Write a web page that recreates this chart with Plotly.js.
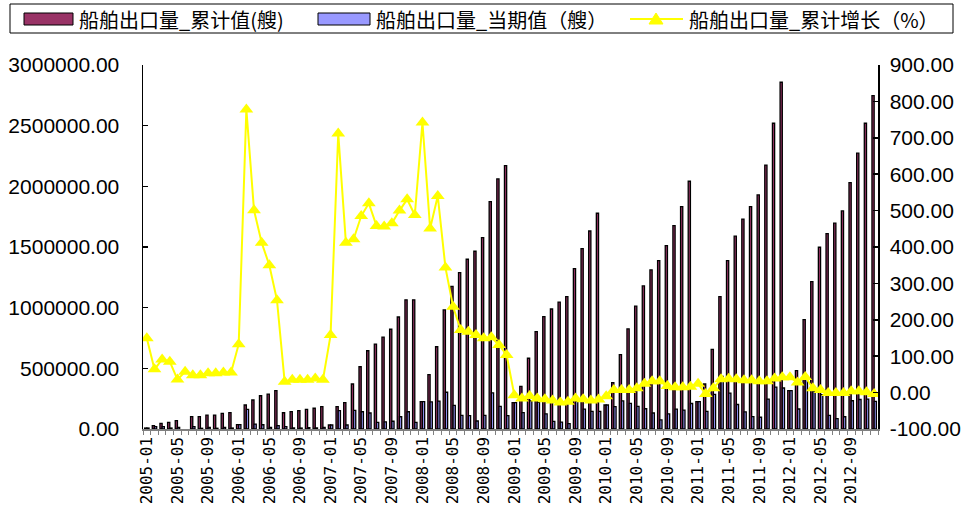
<!DOCTYPE html>
<html>
<head>
<meta charset="utf-8">
<script src="https://cdn.plot.ly/plotly-3.0.1.min.js"></script>
<style>html,body{margin:0;padding:0;background:#fff;}#chart{width:966px;height:508px;}</style>
</head>
<body>
<div id="chart"></div>
<script>
// ---- data ----
const categories = [
"2005-01","2005-02","2005-03","2005-04","2005-05","2005-06","2005-07","2005-08","2005-09","2005-10","2005-11","2005-12",
"2006-01","2006-02","2006-03","2006-04","2006-05","2006-06","2006-07","2006-08","2006-09","2006-10","2006-11","2006-12",
"2007-01","2007-02","2007-03","2007-04","2007-05","2007-06","2007-07","2007-08","2007-09","2007-10","2007-11","2007-12",
"2008-01","2008-02","2008-03","2008-04","2008-05","2008-06","2008-07","2008-08","2008-09","2008-10","2008-11","2008-12",
"2009-01","2009-02","2009-03","2009-04","2009-05","2009-06","2009-07","2009-08","2009-09","2009-10","2009-11","2009-12",
"2010-01","2010-02","2010-03","2010-04","2010-05","2010-06","2010-07","2010-08","2010-09","2010-10","2010-11","2010-12",
"2011-01","2011-02","2011-03","2011-04","2011-05","2011-06","2011-07","2011-08","2011-09","2011-10","2011-11","2011-12",
"2012-01","2012-02","2012-03","2012-04","2012-05","2012-06","2012-07","2012-08","2012-09","2012-10","2012-11","2012-12"];

const tickLabels = ["2005-01","2005-05","2005-09","2006-01","2006-05","2006-09","2007-01","2007-05","2007-09",
"2008-01","2008-05","2008-09","2009-01","2009-05","2009-09","2010-01","2010-05","2010-09",
"2011-01","2011-05","2011-09","2012-01","2012-05","2012-09"];

const cumulativeShips = [
8000,27000,47000,55000,69000,null,102000,102000,115000,115000,129000,135000,
36000,198000,239000,274000,288000,316000,134000,143000,151000,162000,171000,184000,
33000,184000,217000,371000,513000,645000,700000,758000,822000,923000,1065000,1065000,
225000,448000,678000,981000,1176000,1288000,1399000,1465000,1577000,1874000,2061000,2171000,
217000,352000,583000,802000,926000,989000,1046000,1091000,1322000,1486000,1632000,1778000,
198000,382000,613000,825000,1012000,1179000,1311000,1387000,1512000,1676000,1832000,2042000,
225000,371000,657000,1091000,1387000,1589000,1730000,1832000,1929000,2175000,2520000,2858000,
316000,481000,901000,1214000,1498000,1610000,1696000,1797000,2030000,2273000,2520000,2748000];

const currentShips = [
8000,19000,20000,8000,14000,null,20000,6000,13000,6000,14000,8000,
36000,162000,41000,35000,14000,28000,20000,9000,8000,11000,9000,13000,
33000,151000,33000,154000,142000,132000,55000,58000,64000,101000,142000,55000,
225000,223000,230000,303000,195000,112000,111000,66000,112000,297000,187000,110000,
217000,135000,231000,219000,124000,63000,57000,45000,231000,164000,146000,146000,
198000,184000,231000,212000,187000,167000,132000,76000,125000,164000,156000,210000,
225000,146000,286000,434000,296000,202000,141000,102000,97000,246000,345000,338000,
316000,165000,420000,313000,284000,112000,86000,101000,233000,243000,247000,228000];

const growthPct = [
149,64,91,85,36,57,48,48,53,53,55,55,
133,778,501,412,350,254,30,35,35,35,39,35,
158,712,412,421,485,520,458,456,465,500,531,488,
742,451,540,344,236,172,167,158,149,152,131,103,
-7,-16,-9,-16,-18,-22,-27,-25,-16,-18,-22,-19,
-10,7,7,7,12,24,31,31,18,15,15,16,
24,-4,12,37,38,37,34,34,31,31,39,42,
42,28,43,12,7,-1,-1,-1,4,4,1,-4];

const leftTicks = [0,500000,1000000,1500000,2000000,2500000,3000000];
const leftTickText = ["0.00","500000.00","1000000.00","1500000.00","2000000.00","2500000.00","3000000.00"];
const rightTicks = [-100,0,100,200,300,400,500,600,700,800,900];
const rightTickText = ["-100.00","0.00","100.00","200.00","300.00","400.00","500.00","600.00","700.00","800.00","900.00"];

const seriesNames = ["船舶出口量_累计值(艘)","船舶出口量_当期值（艘）","船舶出口量_累计增长（%）"];

// ---- geometry helpers (pixel -> paper) ----
const W = 966, H = 508;
const M = {l:143, r:88, t:65, b:79};
const pw = W - M.l - M.r, ph = H - M.t - M.b;
const px = x => (x - M.l) / pw;
const py = y => (H - M.b - y) / ph;

const traces = [
  {type:'bar', name:seriesNames[0], x:categories, y:cumulativeShips,
   marker:{color:'#993366', line:{color:'#000000', width:1.3}}, showlegend:false},
  {type:'bar', name:seriesNames[1], x:categories, y:currentShips,
   marker:{color:'#9999FF', line:{color:'#000000', width:1.3}}, showlegend:false},
  {type:'scatter', mode:'lines+markers', name:seriesNames[2], x:categories, y:growthPct, yaxis:'y2',
   line:{color:'#FFFF00', width:2}, marker:{symbol:'triangle-up', size:12, color:'#FFFF00'},
   connectgaps:true, showlegend:false}
];

// custom legend
const legY = 19;
const shapes = [
  {type:'rect', xref:'paper', yref:'paper', x0:px(10), x1:px(953), y0:py(33), y1:py(4),
   line:{color:'#000', width:1}, fillcolor:'rgba(0,0,0,0)'},
  {type:'rect', xref:'paper', yref:'paper', x0:px(24), x1:px(73), y0:py(legY+6), y1:py(legY-6),
   line:{color:'#000', width:1}, fillcolor:'#993366'},
  {type:'rect', xref:'paper', yref:'paper', x0:px(318), x1:px(370), y0:py(legY+6), y1:py(legY-6),
   line:{color:'#000', width:1}, fillcolor:'#9999FF'},
  {type:'line', xref:'paper', yref:'paper', x0:px(630), x1:px(683), y0:py(legY), y1:py(legY),
   line:{color:'#FFFF00', width:2}},
  {type:'path', xref:'paper', yref:'paper',
   path:`M ${px(649)} ${py(legY+5)} L ${px(663)} ${py(legY+5)} L ${px(656)} ${py(legY-6)} Z`,
   line:{color:'#FFFF00', width:1}, fillcolor:'#FFFF00'}
];
const legFont = {family:'"Noto Sans CJK SC", sans-serif', size:20, color:'#000'};
const annotations = [
  {xref:'paper', yref:'paper', x:px(77), y:py(legY), xanchor:'left', yanchor:'middle', text:seriesNames[0], showarrow:false, font:legFont},
  {xref:'paper', yref:'paper', x:px(374), y:py(legY), xanchor:'left', yanchor:'middle', text:seriesNames[1], showarrow:false, font:legFont},
  {xref:'paper', yref:'paper', x:px(687), y:py(legY), xanchor:'left', yanchor:'middle', text:seriesNames[2], showarrow:false, font:legFont}
];

const layout = {
  width:W, height:H,
  margin:{l:M.l, r:M.r, t:M.t, b:M.b, pad:0},
  paper_bgcolor:'#ffffff', plot_bgcolor:'#ffffff',
  showlegend:false,
  barmode:'group', bargap:0.42, bargroupgap:0,
  xaxis:{type:'category', categoryorder:'array', categoryarray:categories,
    tickmode:'array', tickvals:categories,
    ticktext:categories.map(c => tickLabels.includes(c) ? c : ''),
    tickson:'boundaries', ticks:'outside', ticklen:4, tickcolor:'#808080',
    tickangle:-90, tickfont:{family:'"DejaVu Sans Mono", monospace', size:16, color:'#000'},
    showline:true, linecolor:'#808080', linewidth:1.5, showgrid:false, zeroline:false,
    range:[-0.5, categories.length-0.5]},
  yaxis:{range:[0,3000000], tickmode:'array', tickvals:leftTicks, ticktext:leftTickText,
    ticks:'inside', ticklen:5, tickcolor:'#000', tickwidth:1.5,
    showline:true, linecolor:'#000', linewidth:1.5, showgrid:false, zeroline:false,
    ticklabelstandoff:18,
    tickfont:{family:'"Liberation Sans", Arial, sans-serif', size:21, color:'#000'}},
  yaxis2:{range:[-100,900], overlaying:'y', side:'right', tickmode:'array', tickvals:rightTicks, ticktext:rightTickText,
    ticks:'inside', ticklen:5, tickcolor:'#000', tickwidth:1.5,
    showline:true, linecolor:'#000', linewidth:1.5, showgrid:false, zeroline:false,
    ticklabelstandoff:6,
    tickfont:{family:'"Liberation Sans", Arial, sans-serif', size:21, color:'#000'}},
  shapes:shapes,
  annotations:annotations
};

Plotly.newPlot('chart', traces, layout, {displayModeBar:false, staticPlot:true});
</script>
</body>
</html>
